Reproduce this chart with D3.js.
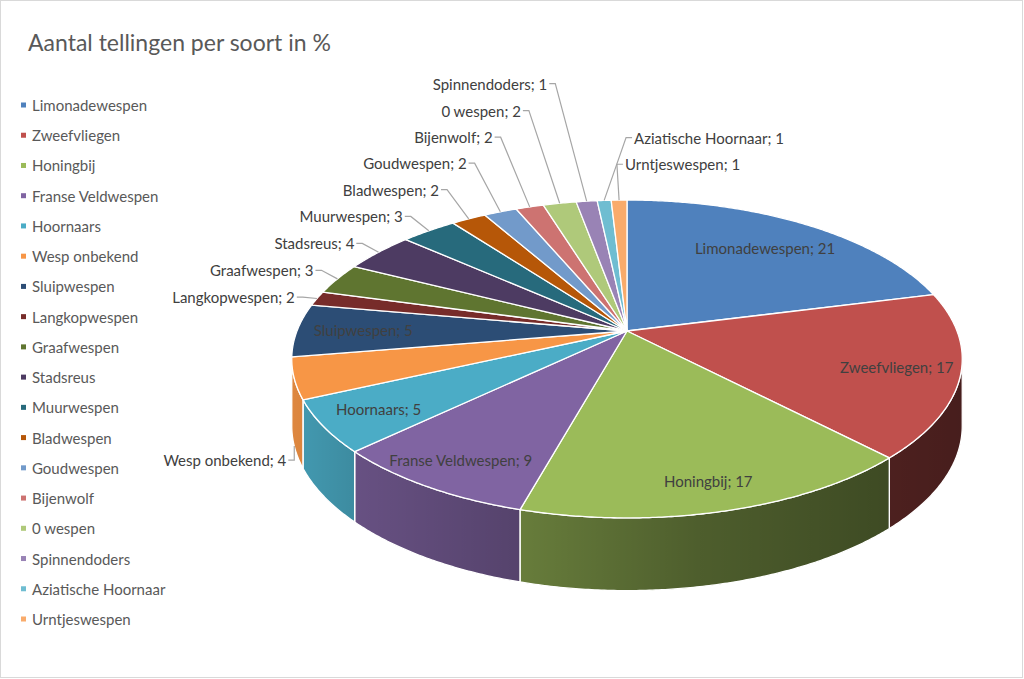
<!DOCTYPE html>
<html>
<head>
<meta charset="utf-8">
<script src="https://cdn.jsdelivr.net/npm/d3@7"></script>
<style>
  body { margin: 0; background: #fff; }
  svg text { font-family: Lato, "Open Sans", sans-serif; }
</style>
</head>
<body>
<svg id="chart" width="1024" height="679"></svg>
<script>
// data (slice sizes estimated, labels show them rounded)
var soorten = ["Limonadewespen", "Zweefvliegen", "Honingbij", "Franse Veldwespen", "Hoornaars",
  "Wesp onbekend", "Sluipwespen", "Langkopwespen", "Graafwespen", "Stadsreus", "Muurwespen",
  "Bladwespen", "Goudwespen", "Bijenwolf", "0 wespen", "Spinnendoders", "Aziatische Hoornaar",
  "Urntjeswespen"];
var procenten = [21.1, 16.8, 16.6, 8.6, 5.3, 4.2, 5.4, 1.5, 3.2, 4.1, 3.2, 2.0, 1.9, 1.6, 1.9, 1.2, 0.8, 0.9];
var kleuren = ["#4f81bd", "#c0504d", "#9bbb59", "#8064a2", "#4bacc6", "#f79646",
  "#2c4d75", "#772c2a", "#5f7530", "#4d3b62", "#276a7c", "#b65708",
  "#729aca", "#cd7371", "#afc97a", "#9983b5", "#6fbdd1", "#f9ab6b"];
var titel = "Aantal tellingen per soort in %";

var svg = d3.select("#chart");
var W = 1024, H = 679;

// pie geometry (tilted disc with a bit of perspective)
var cx = 627, cy = 331, A = 330, B = 154, k = -0.176;

function proj(a, r) {
  var u = r * Math.sin(a), v = -r * Math.cos(a), w = 1 + k * v;
  return [cx + A * u / w, cy + B * v / w, w];
}
function diepte(w) { return 66 / Math.sqrt(w); }
function projLaag(a, r) {
  var p = proj(a, r);
  return [p[0], p[1] + diepte(p[2])];
}

var rows = soorten.map(function(s, i) { return { naam: s, waarde: procenten[i], kleur: kleuren[i] }; });
var arcs = d3.pie().sort(null).value(function(d) { return d.waarde; })
  .startAngle(0).endAngle(2 * Math.PI)(rows);
var fmt = d3.format(".0f");
function labelTekst(d) { return d.data.naam + "; " + fmt(d.data.waarde); }

svg.append("rect").attr("x", 0.5).attr("y", 0.5).attr("width", W - 2).attr("height", H - 2)
  .attr("fill", "#fff").attr("stroke", "#d9d9d9");

// side shading: darker to the right
var defs = svg.append("defs");
var x0g = cx - A * 1.02, x1g = cx + A * 1.02;
var shade = defs.append("linearGradient").attr("id", "shade")
  .attr("gradientUnits", "userSpaceOnUse")
  .attr("x1", x0g).attr("x2", x1g).attr("y1", 0).attr("y2", 0);
[[292, 0.1], [360, 0.2], [527, 0.34], [700, 0.5], [885, 0.6], [962, 0.63]].forEach(function(s) {
  shade.append("stop").attr("offset", (s[0] - x0g) / (x1g - x0g))
    .attr("stop-color", "#000").attr("stop-opacity", s[1]);
});

var line = d3.line();
function stappen(a0, a1) {
  var n = Math.max(2, Math.ceil((a1 - a0) / 0.008));
  return d3.range(n + 1).map(function(i) { return a0 + (a1 - a0) * i / n; });
}

// visible part of the rim
var zicht0 = Math.acos(k), zicht1 = 2 * Math.PI - Math.acos(k);

var wanden = arcs.filter(function(d) { return d.endAngle > zicht0 && d.startAngle < zicht1; });
var wandPad = function(d) {
  var a0 = Math.max(d.startAngle, zicht0), a1 = Math.min(d.endAngle, zicht1);
  var st = stappen(a0, a1);
  var top = st.map(function(a) { return proj(a, 1).slice(0, 2); });
  var laag = st.slice().reverse().map(function(a) { return projLaag(a, 1); });
  return line(top.concat(laag)) + "Z";
};
var gWand = svg.append("g");
gWand.selectAll("path.wand").data(wanden).join("path").attr("class", "wand")
  .attr("d", wandPad).attr("fill", function(d) { return d.data.kleur; });
gWand.selectAll("path.schaduw").data(wanden).join("path").attr("class", "schaduw")
  .attr("d", wandPad).attr("fill", "url(#shade)")
  .attr("stroke", "#fff").attr("stroke-width", 1.3).attr("stroke-linejoin", "round");

// top faces
svg.append("g").selectAll("path").data(arcs).join("path")
  .attr("d", function(d) {
    var pts = [[cx, cy]].concat(stappen(d.startAngle, d.endAngle).map(function(a) { return proj(a, 1).slice(0, 2); }));
    return line(pts) + "Z";
  })
  .attr("fill", function(d) { return d.data.kleur; })
  .attr("stroke", "#fff").attr("stroke-width", 1.3).attr("stroke-linejoin", "round");

// inside labels (slightly further out towards the front)
function binnenPos(d) {
  var mid = (d.startAngle + d.endAngle) / 2;
  return proj(mid, 0.8 - 0.06 * Math.cos(mid));
}
var binnen = arcs.filter(function(d) { return d.data.waarde >= 5; });
svg.append("g").selectAll("text").data(binnen).join("text")
  .attr("x", function(d) { return binnenPos(d)[0]; })
  .attr("y", function(d) { return binnenPos(d)[1]; })
  .attr("text-anchor", "middle").attr("dominant-baseline", "central")
  .attr("font-size", 15).attr("fill", "#404040")
  .text(labelTekst);

// outside labels with leader lines
var stub = 6, hh = 26;
var buiten = arcs.filter(function(d) { return d.data.waarde < 5; }).map(function(d) {
  var mid = (d.startAngle + d.endAngle) / 2;
  var voor = Math.cos(mid) < k;
  var e = voor ? projLaag(mid, 1) : proj(mid, 1).slice(0, 2);
  var dir;
  if (voor) dir = [0, 1];
  else {
    var e2 = proj(mid, 1.1), dx = e2[0] - e[0], dy = e2[1] - e[1], len = Math.hypot(dx, dy);
    dir = [dx / len, dy / len];
  }
  return { d: d, edge: e, dir: dir, links: e[0] < cx - 30, op: !voor };
});
var links = buiten.filter(function(b) { return b.links; }).sort(function(a, b) { return b.edge[1] - a.edge[1]; });
var rechts = buiten.filter(function(b) { return !b.links; }).sort(function(a, b) {
  return Math.abs(a.edge[0] - cx) - Math.abs(b.edge[0] - cx);
});

var gLab = svg.append("g");
var geplaatst = [];
function botst(b) {
  return geplaatst.some(function(p) { return b.x0 < p.x1 && b.x1 > p.x0 && b.y0 < p.y1 && b.y1 > p.y0; });
}
links.concat(rechts).forEach(function(b) {
  var t = gLab.append("text").attr("font-size", 15).attr("fill", "#404040")
    .attr("dominant-baseline", "central")
    .attr("text-anchor", b.links ? "end" : "start")
    .text(labelTekst(b.d));
  var wdt = t.node().getComputedTextLength();
  var up = Math.max(0, -b.dir[1]);
  var gap = 14 + 22 * up * up;
  var ax = b.edge[0] + b.dir[0] * gap, ay = b.edge[1] + b.dir[1] * gap;
  function doos() {
    var x1 = b.links ? ax - stub - 2 : ax + stub + 2 + wdt;
    return { x0: x1 - wdt, x1: x1, y0: ay - hh / 2, y1: ay + hh / 2 };
  }
  var n = 0;
  // push away from the pie: mostly vertical, a little sideways
  while (botst(doos()) && n < 400) {
    ay += b.op ? -1 : 1;
    ax += b.links ? -0.25 : 1;
    n++;
  }
  geplaatst.push(doos());
  var tx = b.links ? ax - stub - 2 : ax + stub + 2;
  t.attr("x", tx).attr("y", ay);
  gLab.append("path")
    .attr("d", line([b.edge, [ax, ay], [b.links ? ax - stub : ax + stub, ay]]))
    .attr("fill", "none").attr("stroke", "#a6a6a6").attr("stroke-width", 1.2);
});

// legend
var ly = d3.scalePoint().domain(soorten).range([105, 619]);
var leg = svg.append("g").selectAll("g").data(rows).join("g")
  .attr("transform", function(d) { return "translate(0," + ly(d.naam) + ")"; });
leg.append("rect").attr("x", 21).attr("y", -2.5).attr("width", 5).attr("height", 5)
  .attr("fill", function(d) { return d.kleur; });
leg.append("text").attr("x", 32).attr("y", 0).attr("dominant-baseline", "central")
  .attr("font-size", 15).attr("fill", "#595959").text(function(d) { return d.naam; });

// title
svg.append("text").attr("x", 28).attr("y", 51).attr("font-size", 23).attr("fill", "#595959")
  .text(titel);
</script>
</body>
</html>
